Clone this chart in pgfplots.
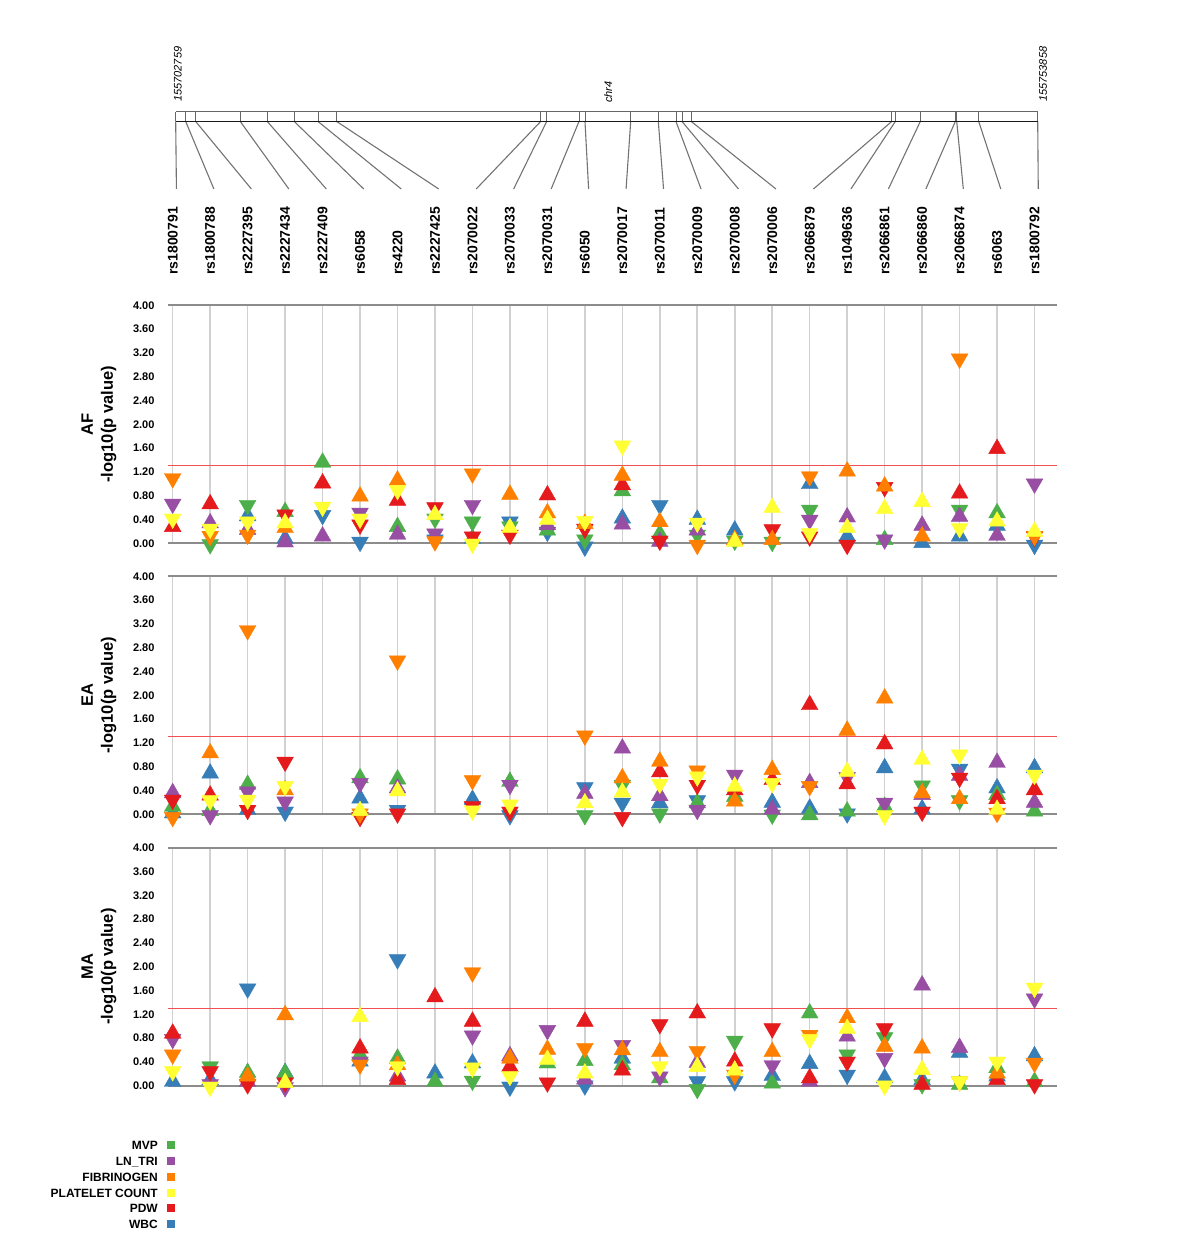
\documentclass[border=0pt]{standalone}
\usepackage{pgfplots}
\usepackage{pgfplotstable}
\pgfplotsset{compat=1.18}
\usepackage{fontspec}
\setmainfont{Liberation Sans}

\definecolor{cG}{HTML}{4DAF4A}
\definecolor{cP}{HTML}{984EA3}
\definecolor{cO}{HTML}{FF7F00}
\definecolor{cY}{HTML}{FFFF33}
\definecolor{cR}{HTML}{E41A1C}
\definecolor{cB}{HTML}{377EB8}
\definecolor{thrred}{HTML}{F05050}

\pgfdeclareplotmark{utri}{%
  \pgfpathmoveto{\pgfqpoint{0pt}{0.83\pgfplotmarksize}}%
  \pgfpathlineto{\pgfqpoint{0.95\pgfplotmarksize}{-0.83\pgfplotmarksize}}%
  \pgfpathlineto{\pgfqpoint{-0.95\pgfplotmarksize}{-0.83\pgfplotmarksize}}%
  \pgfpathclose\pgfusepathqfillstroke}
\pgfdeclareplotmark{dtri}{%
  \pgfpathmoveto{\pgfqpoint{0pt}{-0.83\pgfplotmarksize}}%
  \pgfpathlineto{\pgfqpoint{0.95\pgfplotmarksize}{0.83\pgfplotmarksize}}%
  \pgfpathlineto{\pgfqpoint{-0.95\pgfplotmarksize}{0.83\pgfplotmarksize}}%
  \pgfpathclose\pgfusepathqfillstroke}

\pgfplotstableread{
i gx name
0 0.080 rs1800791
1 0.347 rs1800788
2 0.614 rs2227395
3 1.804 rs2227434
4 2.525 rs2227409
5 3.245 rs6058
6 3.878 rs4220
7 4.377 rs2227425
8 9.821 rs2070022
9 9.981 rs2070033
10 10.843 rs2070031
11 11.003 rs6050
12 12.223 rs2070017
13 12.960 rs2070011
14 13.432 rs2070009
15 13.592 rs2070008
16 13.840 rs2070006
17 19.189 rs2066879
18 19.285 rs1049636
19 19.952 rs2066861
20 20.886 rs2066860
21 20.924 rs2066874
22 21.511 rs6063
23 23.085 rs1800792
}\maptable

% AF panel: x = SNP index, y = -log10(p), c = trait + direction (u/d)
\pgfplotstableread{
x y c
2 0.50 Bu
3 0.12 Bu
4 0.43 Bd
5 -0.02 Bd
7 0.02 Bd
8 0.12 Bu
9 0.32 Bd
10 0.15 Bd
11 -0.10 Bd
12 0.46 Bu
13 0.60 Bd
14 0.44 Bu
15 0.26 Bu
17 1.04 Bu
18 0.16 Bu
20 0.05 Bu
21 0.16 Bu
22 0.34 Bu
23 -0.07 Bd
1 -0.06 Gd
2 0.60 Gd
3 0.57 Gu
4 1.40 Gu
6 0.32 Gu
7 0.37 Gd
8 0.32 Gd
9 0.24 Gd
10 0.26 Gu
11 0.02 Gd
12 0.92 Gu
13 0.20 Gu
14 0.10 Gd
15 0.00 Gd
16 -0.02 Gd
17 0.52 Gd
19 0.10 Gu
21 0.52 Gd
22 0.55 Gu
0 0.62 Pd
1 0.38 Pu
2 0.27 Pu
3 0.06 Pu
4 0.16 Pu
5 0.47 Pd
6 0.19 Pu
7 0.12 Pd
8 0.60 Pd
10 0.35 Pu
12 0.36 Pu
13 0.07 Pu
14 0.26 Pu
17 0.35 Pd
18 0.48 Pu
19 0.02 Pd
20 0.34 Pu
21 0.49 Pu
22 0.17 Pu
23 0.96 Pd
0 0.32 Ru
1 0.70 Ru
3 0.44 Rd
4 1.05 Ru
5 0.27 Rd
6 0.76 Ru
7 0.56 Rd
8 0.07 Rd
9 0.10 Rd
10 0.85 Ru
11 0.20 Rd
12 1.02 Ru
13 0.00 Rd
16 0.19 Rd
17 0.07 Rd
18 -0.07 Rd
19 0.90 Rd
21 0.88 Ru
22 1.63 Ru
23 0.07 Rd
0 1.05 Od
1 0.08 Od
2 0.10 Od
3 0.30 Ou
5 0.83 Ou
6 1.10 Ou
7 -0.01 Od
8 1.13 Od
9 0.86 Ou
10 0.55 Ou
11 0.37 Ou
12 1.18 Ou
13 0.40 Ou
14 -0.07 Od
15 0.10 Ou
16 0.10 Ou
17 1.08 Od
18 1.25 Ou
19 1.00 Ou
20 0.16 Ou
21 3.06 Od
23 0.08 Od
0 0.37 Yd
1 0.20 Yd
2 0.32 Yd
3 0.38 Yu
4 0.57 Yd
5 0.37 Yd
6 0.85 Yd
7 0.52 Yu
8 -0.05 Yd
9 0.30 Yu
10 0.44 Yu
11 0.33 Yd
12 1.60 Yd
14 0.30 Yd
15 0.07 Yu
16 0.64 Yu
17 0.13 Yd
18 0.30 Yu
19 0.62 Yu
20 0.74 Yu
21 0.21 Yd
22 0.41 Yu
23 0.24 Yu
}\tabAF

% EA panel
\pgfplotstableread{
x y c
0 0.06 Bu
1 0.73 Bu
2 0.12 Bu
3 0.00 Bd
5 0.31 Bu
6 0.03 Bd
8 0.29 Bu
9 -0.06 Bd
11 0.41 Bd
12 0.15 Bd
13 0.23 Bu
14 0.19 Bd
16 0.24 Bu
17 0.14 Bu
18 -0.03 Bd
19 0.82 Bu
20 0.13 Bu
21 0.72 Bd
22 0.48 Bu
23 0.82 Bu
0 0.17 Gu
1 0.10 Gu
2 0.54 Gu
5 0.65 Gu
6 0.63 Gu
9 0.59 Gu
11 -0.06 Gd
12 0.45 Gd
13 -0.03 Gd
14 0.23 Gu
15 0.34 Gu
16 -0.05 Gd
17 0.03 Gu
18 0.09 Gu
19 0.17 Gu
20 0.44 Gd
21 0.19 Gd
22 0.37 Gu
23 0.09 Gu
0 0.40 Pu
1 -0.06 Pd
2 0.34 Pd
3 0.17 Pd
5 0.48 Pd
6 0.48 Pu
9 0.45 Pd
11 0.39 Pu
12 1.15 Pu
13 0.35 Pu
14 0.03 Pd
15 0.62 Pd
16 0.12 Pu
17 0.57 Pu
18 0.58 Pd
19 0.15 Pd
20 0.37 Pu
21 0.69 Pu
22 0.91 Pu
23 0.24 Pu
0 0.20 Rd
1 0.36 Ru
2 0.03 Rd
3 0.84 Rd
5 -0.09 Rd
6 -0.03 Rd
8 0.09 Rd
9 0.00 Rd
12 -0.09 Rd
13 0.75 Ru
14 0.45 Rd
15 0.45 Ru
16 0.62 Ru
17 1.88 Ru
18 0.55 Ru
19 1.22 Ru
20 0.00 Rd
21 0.57 Rd
22 0.30 Ru
23 0.45 Ru
0 -0.09 Od
1 1.07 Ou
2 3.05 Od
3 0.45 Ou
5 -0.03 Od
6 2.54 Od
8 0.53 Od
11 1.28 Od
12 0.65 Ou
13 0.93 Ou
14 0.69 Od
15 0.26 Ou
16 0.79 Ou
17 0.43 Od
18 1.45 Ou
19 1.99 Ou
20 0.40 Ou
21 0.30 Ou
22 -0.02 Od
1 0.19 Yd
2 0.20 Yd
3 0.43 Yd
5 0.10 Yu
6 0.43 Yu
8 0.02 Yd
9 0.12 Yd
11 0.23 Yu
12 0.41 Yu
13 0.47 Yd
14 0.59 Yd
15 0.51 Yu
16 0.48 Yd
18 0.76 Yu
19 -0.06 Yd
20 0.96 Yu
21 0.96 Yd
22 0.12 Yu
23 0.62 Yd
}\tabEA

% MA panel
\pgfplotstableread{
x y c
0 0.11 Bu
1 0.14 Bu
2 1.59 Bd
3 0.26 Bu
5 0.45 Bu
6 2.08 Bd
7 0.25 Bu
8 0.42 Bu
9 -0.06 Bd
11 -0.04 Bd
12 0.50 Bu
14 0.03 Bd
15 0.03 Bd
16 0.21 Bu
17 0.41 Bu
18 0.14 Bd
19 0.17 Bu
20 0.14 Bu
21 0.60 Bu
22 0.20 Bu
23 0.54 Bu
1 0.28 Gd
2 0.26 Gu
3 0.25 Gu
5 0.56 Gu
6 0.50 Gu
7 0.11 Gu
8 0.04 Gd
10 0.42 Gu
11 0.46 Gu
12 0.39 Gu
13 0.17 Gu
14 -0.10 Gd
15 0.71 Gd
16 0.08 Gu
17 1.26 Gu
18 0.48 Gd
19 0.77 Gd
20 -0.02 Gd
21 0.06 Gu
22 0.34 Gu
23 0.11 Gu
0 0.74 Pd
1 -0.02 Pd
2 0.11 Pu
3 -0.07 Pd
5 0.36 Pd
6 0.20 Pu
8 0.80 Pd
9 0.54 Pu
10 0.89 Pd
11 0.15 Pu
12 0.64 Pd
13 0.11 Pd
14 0.43 Pu
16 0.30 Pd
17 0.11 Pu
18 0.87 Pu
19 0.42 Pd
20 1.73 Pu
21 0.68 Pu
23 1.42 Pd
0 0.92 Ru
1 0.20 Rd
2 -0.02 Rd
3 0.01 Rd
5 0.67 Ru
6 0.14 Ru
7 1.53 Ru
8 1.12 Ru
9 0.36 Ru
10 0.01 Rd
11 1.12 Ru
12 0.30 Ru
13 0.99 Rd
14 1.26 Ru
15 0.45 Ru
16 0.92 Rd
17 0.17 Ru
18 0.36 Rd
19 0.92 Rd
20 0.06 Ru
22 0.14 Ru
23 -0.02 Rd
0 0.48 Od
2 0.20 Ou
3 1.23 Ou
5 0.31 Od
6 0.39 Ou
8 1.86 Od
9 0.50 Ou
10 0.65 Ou
11 0.59 Od
12 0.64 Ou
13 0.61 Ou
14 0.54 Od
15 0.14 Od
16 0.61 Ou
17 0.81 Od
18 1.18 Ou
19 0.70 Ou
20 0.67 Ou
21 0.03 Od
22 0.25 Ou
23 0.34 Od
0 0.20 Yd
1 -0.06 Yd
3 0.09 Yu
5 1.20 Yu
6 0.28 Yd
8 0.26 Yd
9 0.12 Yd
10 0.48 Yu
11 0.25 Yu
13 0.28 Yd
14 0.36 Yu
15 0.30 Yu
17 0.74 Yd
18 1.00 Yu
19 -0.04 Yd
20 0.31 Yu
21 0.03 Yd
22 0.36 Yd
23 1.60 Yd
}\tabMA

\pgfplotsset{
  panel/.style={
    scale only axis, width=889pt, height=238pt,
    anchor=south west,
    xmin=-0.125, xmax=23.6, ymin=0, ymax=4, clip=false,
    xtick={0,...,23}, xticklabels={},
    xmajorgrids, major grid style={draw=black!18, line width=1.6pt},
    ytick={0,0.4,0.8,1.2,1.6,2.0,2.4,2.8,3.2,3.6,4.0},
    axis line style={draw=none}, major tick length=0pt,
    extra y ticks={0,4}, extra y tick labels={},
    extra y tick style={ymajorgrids=true, xmajorgrids=false, major grid style={draw=black!45, line width=1.6pt}},
    yticklabel style={font=\bfseries\fontsize{11}{12}\selectfont, xshift=-10pt,
      /pgf/number format/.cd, fixed, fixed zerofill, precision=2, assume math mode=true},
    every axis y label/.style={at={(axis description cs:-0.0776,0.5)}, rotate=90, anchor=center, align=center,
      font=\bfseries\fontsize{16.5}{20}\selectfont},
  },
  pts/.style={scatter, only marks, scatter src=explicit symbolic, mark size=8.8pt, forget plot,
    scatter/classes={
      Bu={mark=utri,draw=cB,fill=cB}, Bd={mark=dtri,draw=cB,fill=cB},
      Gu={mark=utri,draw=cG,fill=cG}, Gd={mark=dtri,draw=cG,fill=cG},
      Pu={mark=utri,draw=cP,fill=cP}, Pd={mark=dtri,draw=cP,fill=cP},
      Ru={mark=utri,draw=cR,fill=cR}, Rd={mark=dtri,draw=cR,fill=cR},
      Ou={mark=utri,draw=cO,fill=cO}, Od={mark=dtri,draw=cO,fill=cO},
      Yu={mark=utri,draw=cY,fill=cY}, Yd={mark=dtri,draw=cY,fill=cY}}},
  thr/.style={draw=thrred, line width=1.0pt, forget plot},
}

\begin{document}
\begin{tikzpicture}
\useasboundingbox (0,0) rectangle (1200pt,1240pt);

% gene map
\begin{axis}[at={(168pt,950pt)}, anchor=south west, scale only axis, width=889pt, height=250pt,
  xmin=-0.125, xmax=23.6, ymin=-290, ymax=-40, hide axis, clip=false]
\addplot[draw=black!55, line width=1.1pt, quiver={u=\thisrow{i}+0.1-\thisrow{gx}, v=-67.5}]
  table[x=gx, y expr=-121.5] {\maptable};
\addplot[draw=black!60, line width=0.9pt, quiver={u=0, v=9.5}]
  table[x=gx, y expr=-121.5] {\maptable};
\addplot[draw=black!60, line width=1pt] coordinates {(0.08,-112) (23.085,-112)};
\addplot[draw=black!90, line width=1.6pt] coordinates {(0.08,-121.5) (23.085,-121.5)};
\addplot[draw=none, mark=none, nodes near coords, point meta=explicit symbolic,
  nodes near coords style={rotate=90, anchor=west, inner sep=0pt, text=black,
    font=\bfseries\fontsize{14}{14}\selectfont}]
  table[x=i, y expr=-275, meta=name] {\maptable};
\node[rotate=90, anchor=west, inner sep=0pt, font=\itshape\fontsize{11}{11}\selectfont] at (axis cs:0.14,-102) {155702759};
\node[rotate=90, anchor=west, inner sep=0pt, font=\itshape\fontsize{11}{11}\selectfont] at (axis cs:11.62,-103) {chr4};
\node[rotate=90, anchor=west, inner sep=0pt, font=\itshape\fontsize{11}{11}\selectfont] at (axis cs:23.23,-102) {155753858};
\end{axis}

% AF
\begin{axis}[panel, at={(168pt,696.7pt)}, ylabel={AF\\-log10(p value)}]
\addplot[thr] coordinates {(-0.125,1.3) (23.6,1.3)};
\addplot[pts] table[x=x, y=y, meta=c] {\tabAF};
\end{axis}

% EA
\begin{axis}[panel, at={(168pt,425.7pt)}, ylabel={EA\\-log10(p value)}]
\addplot[thr] coordinates {(-0.125,1.3) (23.6,1.3)};
\addplot[pts] table[x=x, y=y, meta=c] {\tabEA};
\end{axis}

% MA
\begin{axis}[panel, at={(168pt,154.3pt)}, ylabel={MA\\-log10(p value)},
  legend style={at={(axis description cs:0.0079,-0.23)}, anchor=north east, draw=none, fill=none,
    inner sep=0pt, font=\bfseries\fontsize{12}{12}\selectfont, column sep=9pt, row sep=6.8pt,
    nodes={inner sep=0pt, text height=9pt, text depth=0pt}},
  legend cell align=right, legend plot pos=right,
  legend image code/.code={\fill[#1] (0pt,-4pt) rectangle (8pt,4pt);}]
\addplot[thr] coordinates {(-0.125,1.3) (23.6,1.3)};
\addplot[pts] table[x=x, y=y, meta=c] {\tabMA};
\addlegendimage{fill=cG, draw=none}\addlegendentry{MVP}
\addlegendimage{fill=cP, draw=none}\addlegendentry{LN\_TRI}
\addlegendimage{fill=cO, draw=none}\addlegendentry{FIBRINOGEN}
\addlegendimage{fill=cY, draw=none}\addlegendentry{PLATELET COUNT}
\addlegendimage{fill=cR, draw=none}\addlegendentry{PDW}
\addlegendimage{fill=cB, draw=none}\addlegendentry{WBC}
\end{axis}
\end{tikzpicture}
\end{document}
